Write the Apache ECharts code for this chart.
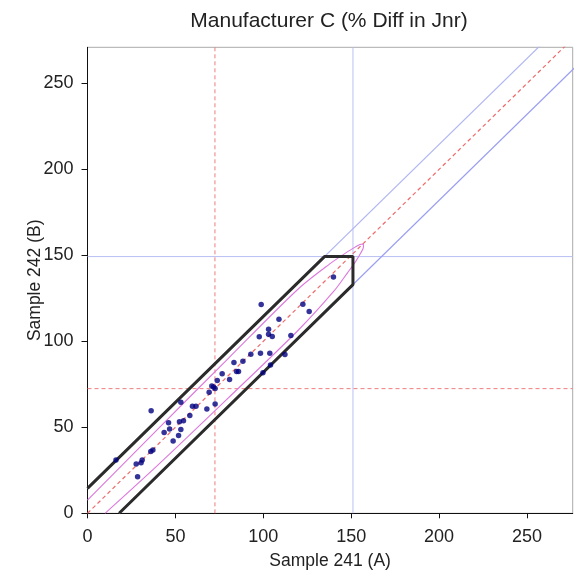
<!DOCTYPE html>
<html><head><meta charset="utf-8">
<script src="https://cdn.jsdelivr.net/npm/echarts@6/dist/echarts.min.js"></script>
<style>html,body{margin:0;padding:0;background:#fff}#c{width:578px;height:574px}</style>
</head><body><div id="c"></div>
<script>
// ---- data ----
const titleText = "Manufacturer C (% Diff in Jnr)";
const xName = "Sample 241 (A)";
const yName = "Sample 242 (B)";
const xTicks = [0, 50, 100, 150, 200, 250];
const yTicks = [0, 50, 100, 150, 200, 250];
const xMax = 276, yMax = 271;

const sampleA = [16.2,27.7,28.5,30.5,31.1,36.2,36.0,37.2,43.6,46.1,46.7,48.7,51.8,52.3,53.1,53.1,54.6,58.2,59.7,61.7,67.9,69.2,70.7,71.7,72.6,72.6,73.8,76.6,80.8,83.3,84.8,85.9,88.4,92.9,97.7,98.8,98.4,99.8,103,103,103.7,104.1,105.1,108.9,112.3,115.7,122.5,126.1,139.9];
const sampleB = [31.0,28.6,21.3,29.4,31.0,59.6,36.0,36.8,47.0,52.6,49.0,42.0,45.3,53.2,48.8,64.6,53.8,56.9,62.3,62.3,60.6,70.4,74.1,73.5,72.6,63.6,77.2,81.1,77.8,87.7,82.5,82.5,88.4,92.5,102.6,121.4,93.1,81.7,104.1,107.0,93.1,86.3,102.8,112.8,92.3,103.4,121.5,117.3,137.4];

const refMean = 72.5;           // red dashed cross-hair
const limitA = 151, limitB = 149.3; // blue cross-hair
const identityLine = [[0, 0], [290, 290]];
const upperBand = [[0, 14.5], [270, 284.5]];
const lowerBand = [[18, 0], [290, 272]];
const acceptRegion = [[0, 14.5], [134.8, 149.3], [151, 149.3], [151, 133], [18, 0]];
const ellipseCurve = [[10,0],[40,28],[80,67],[120,106.6],[140,129],[148,140],[152.3,146.1],[155.5,151.5],[157,155],[156.8,156.6],[155,156.3],[152.3,154.8],[147.6,151.9],[138,145.2],[120,130.6],[80,90],[40,49],[0,7.7]];

// ---- chart ----
const font = "Liberation Sans, Arial, sans-serif";
const txt = "#222";
const pts = sampleA.map((a, i) => [a, sampleB[i]]);
function seg(data, color, width, type) {
  return { type: 'line', data: data, showSymbol: false, symbol: 'none', silent: true,
    lineStyle: { color: color, width: width, type: type || 'solid' }, animation: false, clip: true, z: 2 };
}
const chart = echarts.init(document.getElementById('c'), null, { renderer: 'canvas' });
chart.setOption({
  animation: false,
  title: { text: titleText, left: 324, top: 6, textAlign: 'center',
    textStyle: { fontFamily: font, fontSize: 21, fontWeight: 'normal', color: txt } },
  grid: { left: 87.5, right: 5.3, top: 47.3, bottom: 60.7, show: true, borderColor: '#aaa', borderWidth: 1,
    containLabel: false, outerBoundsMode: 'none' },
  xAxis: { type: 'value', min: 0, max: xMax, name: xName, nameLocation: 'middle', nameGap: 39,
    nameMoveOverlap: false,
    nameTextStyle: { fontFamily: font, fontSize: 17.5, color: txt },
    axisLine: { onZero: false, lineStyle: { color: '#111', width: 1 } },
    axisTick: { show: true, length: 5, customValues: xTicks, lineStyle: { color: '#111' } },
    axisLabel: { customValues: xTicks, margin: 15, fontFamily: font, fontSize: 18, color: txt },
    splitLine: { show: false } },
  yAxis: { type: 'value', min: 0, max: yMax, name: yName, nameLocation: 'middle', nameGap: 43, nameRotate: 90,
    nameMoveOverlap: false,
    nameTextStyle: { fontFamily: font, fontSize: 17.5, color: txt },
    axisLine: { onZero: false, lineStyle: { color: '#111', width: 1 } },
    axisTick: { show: true, length: 6, customValues: yTicks, lineStyle: { color: '#111' } },
    axisLabel: { customValues: yTicks, margin: 14, fontFamily: font, fontSize: 18, color: txt },
    splitLine: { show: false } },
  series: [
    seg([[limitA, 0], [limitA, yMax]], '#b9c0f4', 1),
    seg([[0, limitB], [xMax, limitB]], '#b9c0f4', 1),
    seg(upperBand, '#b0b7f2', 1.2),
    seg(lowerBand, '#9a9ef0', 1.2),
    seg([[refMean, 0], [refMean, yMax]], '#ee7d7d', 1, [4, 3]),
    seg([[0, refMean], [xMax, refMean]], '#ee7d7d', 1, [4, 3]),
    seg(identityLine, '#ee6a6a', 1.2, [4, 3]),
    Object.assign(seg(ellipseCurve, '#dd77dd', 1.1), { smooth: 0.3 }),
    Object.assign(seg(acceptRegion, '#2b2b2b', 3), { z: 3 }),
    { type: 'scatter', data: pts, symbol: 'circle', symbolSize: 5.5, z: 4,
      itemStyle: { color: '#000080' }, silent: true }
  ]
});
</script></body></html>
